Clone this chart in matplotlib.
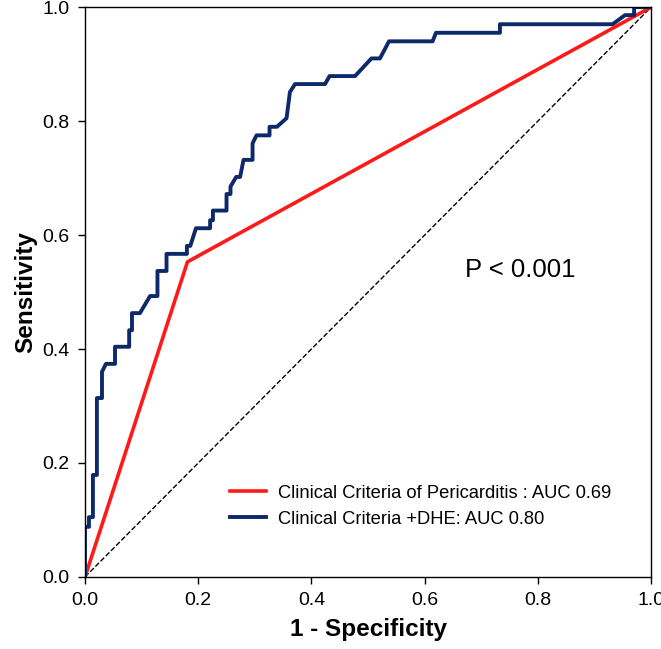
import matplotlib.pyplot as plt

plt.rcParams['font.family'] = ['Liberation Sans', 'DejaVu Sans']

# ROC curve (1 - specificity, sensitivity)
fpr_dhe = [0.0, 0.0, 0.007, 0.007, 0.014, 0.014, 0.021, 0.021, 0.030, 0.030, 0.037,
           0.053, 0.053, 0.078, 0.078, 0.083, 0.083, 0.097, 0.115, 0.128, 0.128,
           0.144, 0.144, 0.180, 0.180, 0.186, 0.196, 0.221, 0.221, 0.226, 0.226,
           0.250, 0.250, 0.257, 0.257, 0.267, 0.274, 0.280, 0.296, 0.296, 0.303,
           0.326, 0.326, 0.339, 0.356, 0.362, 0.371, 0.424, 0.432, 0.477, 0.506,
           0.521, 0.537, 0.614, 0.620, 0.733, 0.733, 0.932, 0.954, 0.970, 0.970, 1.0]
tpr_dhe = [0.0, 0.088, 0.088, 0.105, 0.105, 0.179, 0.179, 0.314, 0.314, 0.360, 0.374,
           0.374, 0.404, 0.404, 0.433, 0.433, 0.463, 0.463, 0.493, 0.493, 0.537,
           0.537, 0.567, 0.567, 0.581, 0.581, 0.612, 0.612, 0.626, 0.626, 0.643,
           0.643, 0.672, 0.672, 0.685, 0.702, 0.702, 0.732, 0.732, 0.761, 0.775,
           0.775, 0.790, 0.790, 0.805, 0.851, 0.865, 0.865, 0.879, 0.879, 0.910,
           0.910, 0.940, 0.940, 0.955, 0.955, 0.970, 0.970, 0.986, 0.986, 1.0, 1.0]

fpr_clin = [0.0, 0.181, 1.0]
tpr_clin = [0.0, 0.553, 1.0]

ticks = [0.0, 0.2, 0.4, 0.6, 0.8, 1.0]
tick_labels = ["0.0", "0.2", "0.4", "0.6", "0.8", "1.0"]

fig = plt.figure(figsize=(6.61, 6.49), dpi=100)
ax = fig.add_axes([0.1286, 0.111, 0.8564, 0.878])

ax.plot([0, 1], [0, 1], color='black', linestyle='--', linewidth=1.0)
ax.plot(fpr_clin, tpr_clin, color='#ff1a1a', linewidth=2.6,
        label='Clinical Criteria of Pericarditis : AUC 0.69')
ax.plot(fpr_dhe, tpr_dhe, color='#0c2a6a', linewidth=2.8,
        label='Clinical Criteria +DHE: AUC 0.80')

ax.set_xlim(0, 1)
ax.set_ylim(0, 1)
ax.set_xticks(ticks)
ax.set_xticklabels(tick_labels)
ax.set_yticks(ticks)
ax.set_yticklabels(tick_labels)
ax.tick_params(direction='out', length=5, width=1, labelsize=14, pad=6)
for s in ax.spines.values():
    s.set_linewidth(1.0)

ax.set_xlabel('1 - Specificity', fontsize=17.5, fontweight='bold', labelpad=6)
ax.set_ylabel('Sensitivity', fontsize=17.5, fontweight='bold', labelpad=4)

ax.text(0.672, 0.539, 'P < 0.001', fontsize=18.5, va='center', ha='left')

ax.legend(loc='center left', bbox_to_anchor=(0.256, 0.124), frameon=False,
          fontsize=13.2, handlelength=1.95, handletextpad=0.65, labelspacing=0.5,
          borderpad=0, borderaxespad=0)

fig.savefig('out.png', dpi=100)
